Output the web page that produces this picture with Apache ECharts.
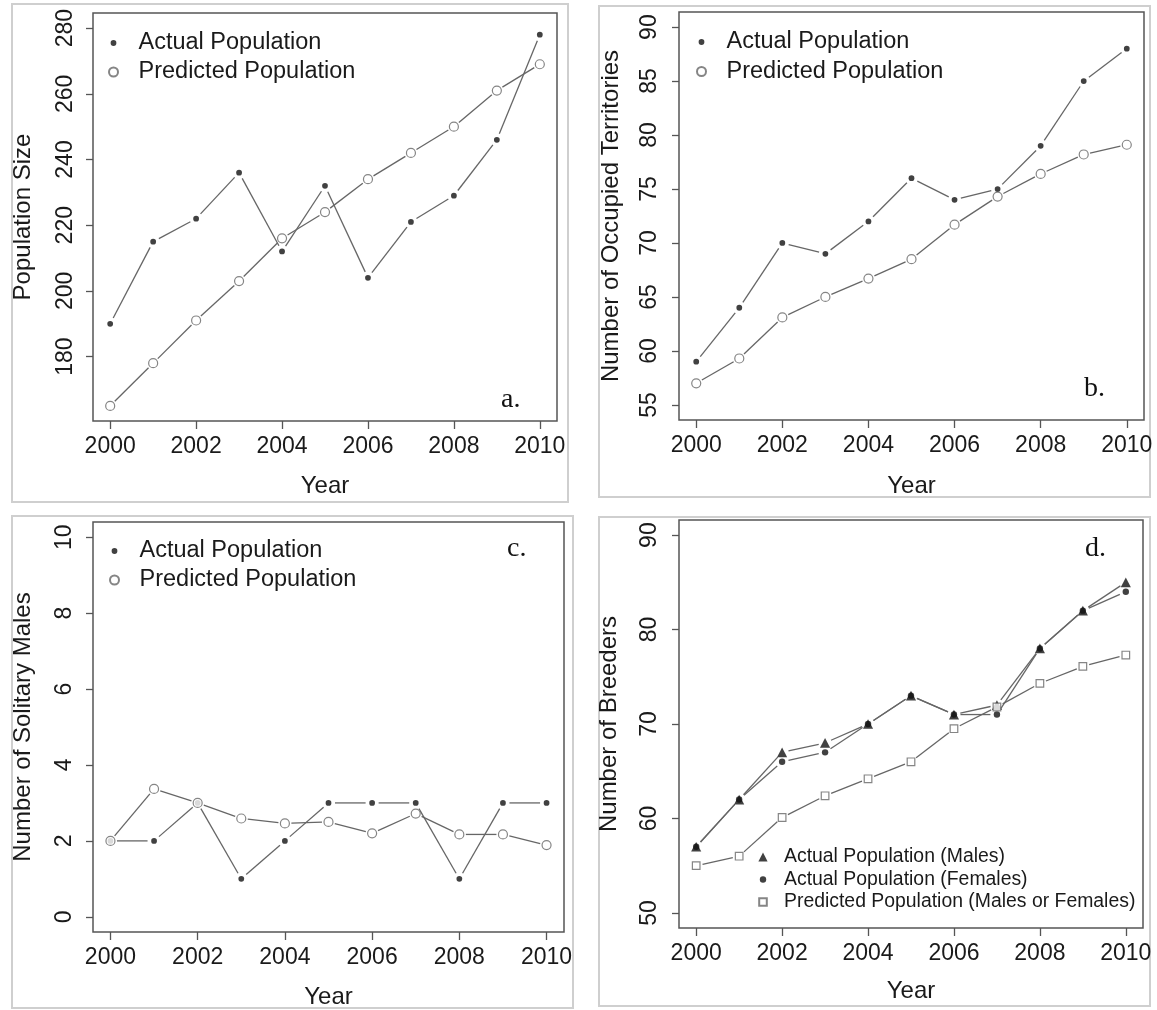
<!DOCTYPE html>
<html>
<head>
<meta charset="utf-8">
<script src="https://cdn.jsdelivr.net/npm/echarts@6/dist/echarts.min.js"></script>
<style>
html,body{margin:0;padding:0;background:#fff;}
#chart{width:1157px;height:1010px;}
</style>
</head>
<body>
<div id="chart"></div>
<script>
// ---- data ----
var years = [2000, 2001, 2002, 2003, 2004, 2005, 2006, 2007, 2008, 2009, 2010];
var xTicks = [2000, 2002, 2004, 2006, 2008, 2010];

var aActual = [190, 215, 222, 236, 212, 232, 204, 221, 229, 246, 278];
var aPredicted = [165, 178, 191, 203, 216, 224, 234, 242, 250, 261, 269];
var aTicks = [180, 200, 220, 240, 260, 280];

var bActual = [59, 64, 70, 69, 72, 76, 74, 75, 79, 85, 88];
var bPredicted = [57, 59.3, 63.1, 65, 66.7, 68.5, 71.7, 74.3, 76.4, 78.2, 79.1];
var bTicks = [55, 60, 65, 70, 75, 80, 85, 90];

var cActual = [2, 2, 3, 1, 2, 3, 3, 3, 1, 3, 3];
var cPredicted = [2, 3.37, 3.0, 2.59, 2.46, 2.5, 2.2, 2.72, 2.17, 2.17, 1.89];
var cTicks = [0, 2, 4, 6, 8, 10];

var dMales = [57, 62, 67, 68, 70, 73, 71, 72, 78, 82, 85];
var dFemales = [57, 62, 66, 67, 70, 73, 71, 71, 78, 82, 84];
var dPredicted = [55, 56, 60.1, 62.4, 64.2, 66, 69.5, 71.8, 74.3, 76.1, 77.3];
var dTicks = [50, 60, 70, 80, 90];

var nameActual = 'Actual Population';
var namePredicted = 'Predicted Population';
var nameMales = 'Actual Population (Males)';
var nameFemales = 'Actual Population (Females)';
var namePredMF = 'Predicted Population (Males or Females)';

// ---- styling ----
var FONT = '"Liberation Sans", Arial, Helvetica, sans-serif';
var SERIF = '"Liberation Serif", "Times New Roman", serif';
var TXT = '#1a1a1a';
var BOX = '#555';
var LINE = '#666';
// symbols padded inside a 10x10 box so legend icons keep the same relative size
var DOT = 'path://M0,0M10,10M8.2,5A3.2,3.2,0,1,1,1.8,5A3.2,3.2,0,1,1,8.2,5Z';
var TRI = 'path://M0,0M10,10M5,0.6L9.6,9.4L0.4,9.4Z';
var SQR = 'path://M0,0M10,10M1.2,1.2L8.8,1.2L8.8,8.8L1.2,8.8Z';

function pairs(ys) {
  return years.map(function (x, i) { return [x, ys[i]]; });
}
function segs(ys) {
  var out = [];
  for (var i = 0; i < years.length - 1; i++) out.push([years[i], ys[i], years[i + 1], ys[i + 1]]);
  return out;
}
function gapLine(idx, ys, gap) {
  return {
    type: 'custom', xAxisIndex: idx, yAxisIndex: idx, silent: true, z: 2,
    data: segs(ys), encode: { x: [0, 2], y: [1, 3] },
    renderItem: function (params, api) {
      var p0 = api.coord([api.value(0), api.value(1)]);
      var p1 = api.coord([api.value(2), api.value(3)]);
      var dx = p1[0] - p0[0], dy = p1[1] - p0[1];
      var L = Math.sqrt(dx * dx + dy * dy);
      if (L <= 2 * gap) return null;
      var ux = dx / L, uy = dy / L;
      return {
        type: 'line',
        shape: { x1: p0[0] + ux * gap, y1: p0[1] + uy * gap, x2: p1[0] - ux * gap, y2: p1[1] - uy * gap },
        style: { stroke: LINE, lineWidth: 1.3 }
      };
    }
  };
}
function pts(idx, name, ys, symbol, size, filled) {
  return {
    type: 'scatter', name: name, xAxisIndex: idx, yAxisIndex: idx, z: 3,
    symbol: symbol, symbolSize: size, data: pairs(ys),
    itemStyle: filled ? { color: '#111' } : { color: '#fff', borderColor: '#666', borderWidth: 1.2 },
    emphasis: { disabled: true }
  };
}
function plainFmt(v) { return String(v); }
function xAxisCfg(idx, gap) {
  return {
    gridIndex: idx, type: 'value', min: 1999.6, max: 2010.4,
    name: 'Year', nameLocation: 'middle', nameGap: gap,
    nameTextStyle: { fontSize: 24, color: TXT, fontFamily: FONT },
    axisLine: { show: false, onZero: false }, splitLine: { show: false },
    axisTick: { show: true, length: 8, customValues: xTicks, lineStyle: { color: BOX, width: 1.3 } },
    axisLabel: { customValues: xTicks, formatter: plainFmt, fontSize: 23, color: TXT, fontFamily: FONT, margin: 14 }
  };
}
function yAxisCfg(idx, min, max, ticks, name, gap, margin) {
  return {
    gridIndex: idx, type: 'value', min: min, max: max,
    name: name, nameLocation: 'middle', nameGap: gap,
    nameTextStyle: { fontSize: 24, color: TXT, fontFamily: FONT },
    axisLine: { show: false, onZero: false }, splitLine: { show: false },
    axisTick: { show: true, length: 7, customValues: ticks, lineStyle: { color: BOX, width: 1.3 } },
    axisLabel: { customValues: ticks, formatter: plainFmt, rotate: 90, fontSize: 23, color: TXT, fontFamily: FONT, margin: margin }
  };
}
function gridCfg(l, t, w, h) {
  return { left: l, top: t, width: w, height: h, show: true, borderColor: BOX, borderWidth: 1.5,
           backgroundColor: 'transparent', containLabel: false, outerBoundsMode: 'none' };
}
function legendCfg(l, t, names, fs, lh, gap, iw, ih) {
  return {
    orient: 'vertical', left: l, top: t, padding: 0, itemGap: gap,
    itemWidth: iw, itemHeight: ih, selectedMode: false, symbolKeepAspect: true,
    textStyle: { fontSize: fs, lineHeight: lh, color: TXT, fontFamily: FONT },
    data: names
  };
}
function frame(x, y, w, h) {
  return { type: 'rect', silent: true, z: 0, shape: { x: x, y: y, width: w, height: h },
           style: { fill: 'none', stroke: '#cfcfcf', lineWidth: 2 } };
}
function letter(x, y, t) {
  return { type: 'text', silent: true, z: 10,
           style: { x: x, y: y, text: t, font: '28px ' + SERIF, fill: '#111', textAlign: 'left', textVerticalAlign: 'middle' } };
}

var option = {
  backgroundColor: '#fff',
  animation: false,
  grid: [
    gridCfg(93, 13, 464, 408),
    gridCfg(679, 12, 465, 408),
    gridCfg(93, 522, 471, 410),
    gridCfg(679, 520, 464, 408)
  ],
  xAxis: [xAxisCfg(0, 53), xAxisCfg(1, 54), xAxisCfg(2, 53), xAxisCfg(3, 51)],
  yAxis: [
    yAxisCfg(0, 160.4, 284.6, aTicks, 'Population Size', 58, 16),
    yAxisCfg(1, 53.6, 91.4, bTicks, 'Number of Occupied Territories', 56, 18),
    yAxisCfg(2, -0.4, 10.4, cTicks, 'Number of Solitary Males', 58, 17),
    yAxisCfg(3, 48.4, 91.6, dTicks, 'Number of Breeders', 58, 18)
  ],
  legend: [
    legendCfg(108, 31, [nameActual, namePredicted], 23.5, 24, 5, 40, 9),
    legendCfg(696, 30, [nameActual, namePredicted], 23.5, 24, 5.5, 40, 9),
    legendCfg(109, 539, [nameActual, namePredicted], 23.5, 24, 5, 40, 9),
    legendCfg(757, 847, [nameMales, nameFemales, namePredMF], 19.4, 20, 2.5, 32, 10)
  ],
  graphic: [
    frame(12, 4, 556, 498),
    frame(599, 6, 551, 491),
    frame(12, 516, 561, 492),
    frame(599, 517, 551, 489),
    letter(501, 400, 'a.'),
    letter(1084, 389, 'b.'),
    letter(507, 549, 'c.'),
    letter(1085, 549, 'd.')
  ],
  series: [
    gapLine(0, aActual, 6.5), gapLine(0, aPredicted, 6.5),
    pts(0, nameActual, aActual, DOT, 9, true),
    pts(0, namePredicted, aPredicted, 'circle', 9, false),

    gapLine(1, bActual, 6.5), gapLine(1, bPredicted, 6.5),
    pts(1, nameActual, bActual, DOT, 9, true),
    pts(1, namePredicted, bPredicted, 'circle', 9, false),

    gapLine(2, cActual, 6.5), gapLine(2, cPredicted, 6.5),
    pts(2, nameActual, cActual, DOT, 9, true),
    pts(2, namePredicted, cPredicted, 'circle', 9, false),

    gapLine(3, dMales, 6.5), gapLine(3, dFemales, 6.5), gapLine(3, dPredicted, 6.5),
    pts(3, nameMales, dMales, TRI, 11, true),
    pts(3, nameFemales, dFemales, DOT, 10, true),
    pts(3, namePredMF, dPredicted, SQR, 10, false)
  ]
};

var chart = echarts.init(document.getElementById('chart'), null, { renderer: 'canvas', width: 1157, height: 1010 });
chart.setOption(option);
</script>
</body>
</html>
